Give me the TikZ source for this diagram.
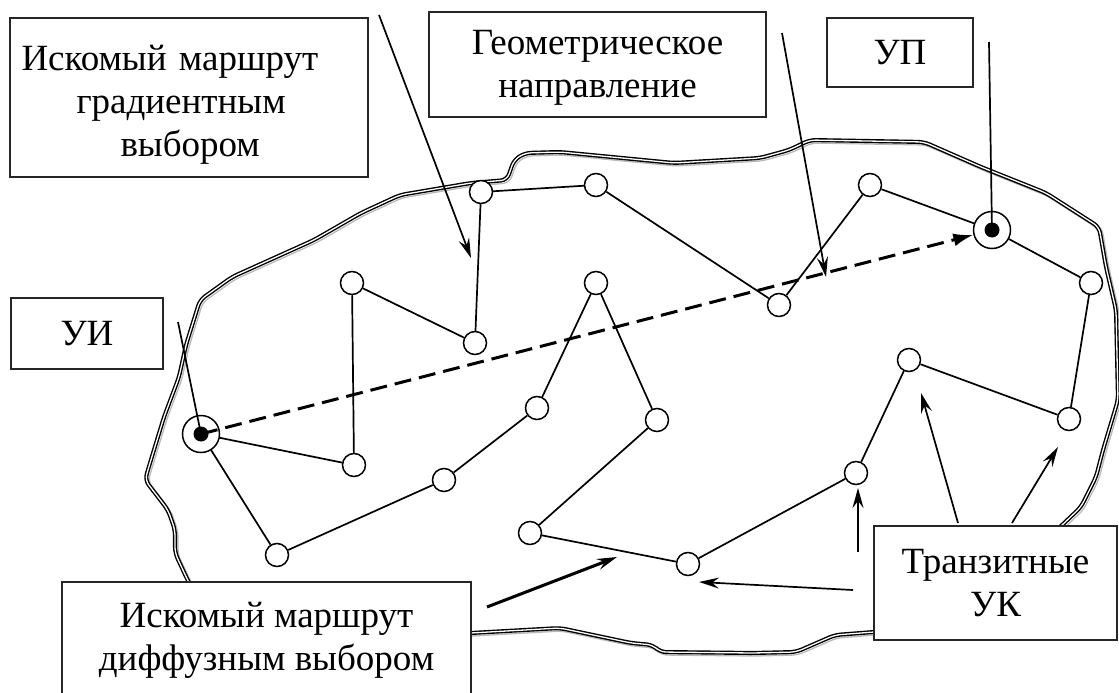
\documentclass[tikz,border=0pt]{standalone}
\usepackage{fontspec}
\setmainfont{Liberation Serif}
\usetikzlibrary{arrows.meta}

\begin{document}
\begin{tikzpicture}[x=1pt,y=-1pt,
  uk/.style={circle,draw,fill=white,line width=1.5pt,minimum size=23pt,inner sep=0pt},
  term/.style={uk,minimum size=37pt},
  boite/.style={draw=black!85,line width=1.3pt,fill=white,inner sep=0pt,align=center,font=\fontsize{37}{43}\selectfont},
  texte/.style={inner sep=0pt,font=\fontsize{37}{43}\selectfont},
  lien/.style={line width=1.7pt},
  fleche/.style={line width=1.7pt,-{Stealth[length=20pt,width=11pt,inset=7pt]}},
  bord/.style={line width=1.4pt,double=white,double distance=1.3pt,rounded corners=6pt}]

\useasboundingbox (0,0) rectangle (1119,693);
\clip (0,0) rectangle (1119,693);

% le contour
\foreach \dec/\coul in {1.6/gray!55,0/black}{
\begin{scope}[shift={(\dec,\dec)}]
\draw[bord,draw=\coul] (189,583) -- (175,553) -- (175,530) -- (168,510) -- (145,480) -- (150,463)
  -- (164,417) -- (179,377) -- (186,345) -- (200,300) -- (232,277) -- (314,240) -- (361,213)
  -- (400,195) -- (471,183) -- (507,180) -- (514,160) -- (525,153) -- (560,152) -- (674,163)
  -- (760,158) -- (789,150) -- (810,140) -- (924,142) -- (981,167) -- (1046,193) -- (1099,227)
  -- (1106,267) -- (1116,310) -- (1118,400) -- (1103,450) -- (1096,477) -- (1081,507)
  -- (1060,527) -- (1000,580) -- (900,630) -- (874,632) -- (835,635) -- (796,652) -- (753,653)
  -- (660,652) -- (653,645) -- (631,643) -- (560,628) -- (471,633) -- (300,640) -- (200,600) -- cycle;
\end{scope}
}

% les UK
\node[term] (ui) at (201,434) {};
\node[term] (up) at (992,230) {};
\node[uk] (n1) at (481,192) {};
\node[uk] (n2) at (596,185) {};
\node[uk] (n3) at (352,283) {};
\node[uk] (n4) at (475,343) {};
\node[uk] (n5) at (596,283) {};
\node[uk] (n6) at (779,305) {};
\node[uk] (n7) at (870,185) {};
\node[uk] (n8) at (1091,283) {};
\node[uk] (n9) at (1069,419) {};
\node[uk] (n10) at (909,360) {};
\node[uk] (n11) at (856,473) {};
\node[uk] (n12) at (688,564) {};
\node[uk] (n13) at (530,533) {};
\node[uk] (n14) at (537,408) {};
\node[uk] (n15) at (657,420) {};
\node[uk] (n16) at (444,480) {};
\node[uk] (n17) at (277,555) {};
\node[uk] (n18) at (354,465) {};

% les routes
\draw[lien] (ui) -- (n18) -- (n3) -- (n4) -- (n1) -- (n2) -- (n6) -- (n7) -- (up);
\draw[lien] (ui) -- (n17) -- (n16) -- (n14) -- (n5) -- (n15) -- (n13) -- (n12) -- (n11)
  -- (n10) -- (n9) -- (n8) -- (up);
\draw[line width=3pt,dash pattern=on 17pt off 8pt,-{Latex[length=20pt,width=13pt]}] (ui.center) -- (up);

% les cadres
\node[boite,minimum width=358pt,minimum height=159pt] (grad) at (189,97.5) {};
\node[texte,text width=335pt,align=left] (gradt) at (189,105) {Искомый маршрут\\\hspace*{55pt}градиентным\\\hspace*{99pt}выбором};
\node[boite,minimum width=337pt,minimum height=105pt] (geom) at (597.5,64.5) {};
\node[texte,align=center] (geomt) at (597.5,68) {Геометрическое\\направление};
\node[boite,minimum width=146pt,minimum height=69pt] (lup) at (900,52.5) {УП};
\node[boite,minimum width=152pt,minimum height=71pt] (lui) at (87,333.5) {УИ};
\node[boite,minimum width=409pt,minimum height=116pt] (diff) at (266.5,640) {Искомый маршрут\\диффузным выбором};
\node[boite,minimum width=243pt,minimum height=114pt] (tran) at (995.5,583) {Транзитные\\УК};

% les fleches
\coordinate (pui) at (178,322);
\coordinate (pup) at (989,42);
\draw[lien] (pui) -- (ui.center);
\draw[lien] (pup) -- (up.center);
\fill (ui) circle (7.5pt);
\fill (up) circle (7.5pt);

\coordinate (g1) at (379,15);  \coordinate (g2) at (471,258);
\coordinate (d1) at (782,33);  \coordinate (d2) at (826,277);
\draw[fleche] (g1) -- (g2);
\draw[fleche] (d1) -- (d2);

\coordinate (t1) at (958,523); \coordinate (t1b) at (921,393);
\coordinate (t2) at (1012,523); \coordinate (t2b) at (1058,447);
\coordinate (t3) at (858,552); \coordinate (t3b) at (858,488);
\coordinate (t4) at (853,590); \coordinate (t4b) at (699,582);
\draw[fleche] (t1) -- (t1b);
\draw[fleche] (t2) -- (t2b);
\draw[fleche] (t3) -- (t3b);
\draw[fleche] (t4) -- (t4b);

\coordinate (f1) at (487,607); \coordinate (f2) at (617,557);
\draw[fleche,line width=3pt] (f1) -- (f2);

\end{tikzpicture}
\end{document}
